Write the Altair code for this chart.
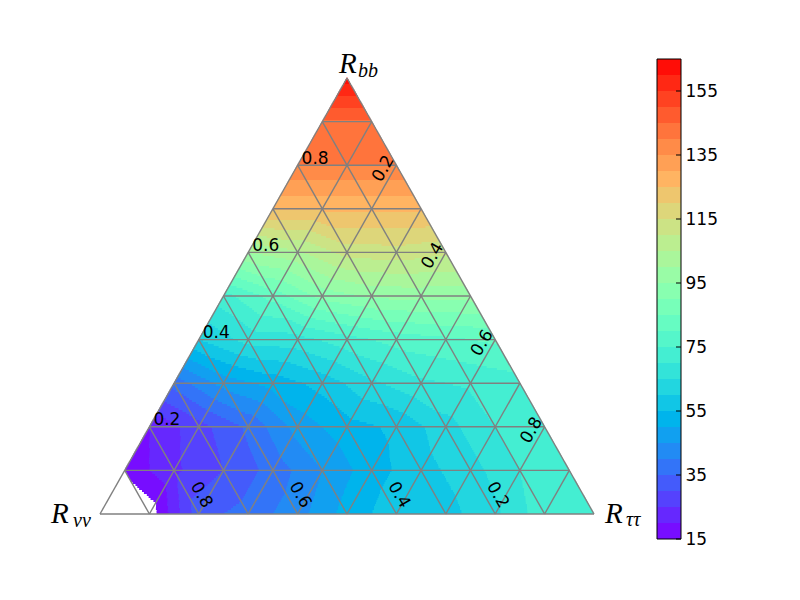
import numpy as np
import pandas as pd
import altair as alt

alt.data_transformers.disable_max_rows()

# ---------------- data ----------------
# Values at the nodes of the ternary grid. One list per row of constant R_bb
# (0.0 ... 1.0); each list runs from the left edge (R_tautau = 0) to the
# right edge (R_nunu = 0) in steps of 0.1 of R_tautau.
row_b00 = [5, 12, 33, 37, 43, 52, 58, 58, 64, 73, 74]
row_b01 = [16, 24, 30, 37, 45, 53, 58, 63, 70, 73]
row_b02 = [20, 28, 36, 47, 53, 56, 63, 70, 73]
row_b03 = [37, 47, 52, 57, 64, 69, 71, 73]
row_b04 = [60, 67, 68, 73, 77, 79, 81]
row_b05 = [73, 82, 92, 96, 97, 97]
row_b06 = [100, 104, 112, 113, 111]
row_b07 = [126, 126, 126, 126]
row_b08 = [140, 140, 140]
row_b09 = [144, 144]
row_b10 = [163]
node_rows = [row_b00, row_b01, row_b02, row_b03, row_b04, row_b05,
             row_b06, row_b07, row_b08, row_b09, row_b10]

level_lows = list(range(15, 165, 5))          # contour levels 15 ... 160 (+5)
cbar_ticks = [15, 35, 55, 75, 95, 115, 135, 155]
axis_ticks = ["0.2", "0.4", "0.6", "0.8"]
grid_steps = [0.0, 0.1, 0.2, 0.3, 0.4, 0.5, 0.6, 0.7, 0.8, 0.9]

# ---------------- colours (matplotlib "rainbow") ----------------
def rainbow(x):
    r = min(1.0, abs(2 * x - 0.5))
    g = np.sin(np.pi * x)
    b = np.cos(np.pi * x / 2)
    return "#%02x%02x%02x" % tuple(int(round(255 * max(0.0, min(1.0, c)))) for c in (r, g, b))

band_colors = [rainbow((lo + 2.5 - 15) / 150.0) for lo in level_lows]
color_scale = alt.Scale(type="threshold", domain=level_lows[1:], range=band_colors)

# ---------------- scales ----------------
PX_X, PX_Y = 494.0, 436.0
W, H = 673, 584
xmin = -92.0 / PX_X
xs = alt.Scale(domain=[xmin, xmin + W / PX_X], nice=False, zero=False)
ymax = 506.0 / PX_Y
ys = alt.Scale(domain=[ymax - H / PX_Y, ymax], nice=False, zero=False)
cb_scale = alt.Scale(domain=[15, 165], range=[531, 51], nice=False, zero=False)


# ---------------- filled contours (linear within the grid triangles) ----------------
def value_at(b, t):
    B, T = b * 10.0, max(0.0, t * 10.0)
    i = min(int(np.floor(B)), 9)
    j = min(int(np.floor(T)), 9 - i)
    fb, ft = B - i, T - j
    if fb + ft <= 1:
        return (node_rows[i][j] * (1 - fb - ft) + node_rows[i + 1][j] * fb
                + node_rows[i][j + 1] * ft)
    return (node_rows[i + 1][j + 1] * (fb + ft - 1) + node_rows[i + 1][j] * (1 - ft)
            + node_rows[i][j + 1] * (1 - fb))


recs = []
h = 2.0 / PX_Y
nrows = int(np.ceil(1.0 / h))
for r in range(nrows):
    b0, b1 = r * h, min((r + 1) * h, 1.0)
    bm = 0.5 * (b0 + b1)
    xl, xr = bm / 2, 1 - bm / 2
    n = max(1, int(round((xr - xl) * PX_X)))
    edges = np.linspace(xl, xr, n + 1)
    ks = []
    for c in 0.5 * (edges[:-1] + edges[1:]):
        t = c - bm / 2
        v = value_at(bm, t)
        if 1 - bm - t > 0.9 or v < 15:     # no fill in the lower-left corner
            ks.append(-1)
        else:
            ks.append(min(29, int((v - 15) // 5)))
    s = 0
    while s < n:
        e = s
        while e + 1 < n and ks[e + 1] == ks[s]:
            e += 1
        if ks[s] >= 0:
            recs.append(dict(x=edges[s], x2=edges[e + 1] + (0.8 / PX_X if e + 1 < n else 0),
                             y=b0, y2=b1 + 0.6 / PX_Y, v=15 + 5 * ks[s] + 2.5))
        s = e + 1
heat_df = pd.DataFrame(recs)

heat = alt.Chart(heat_df).mark_rect(strokeWidth=0).encode(
    x=alt.X("x:Q", scale=xs, axis=None), x2="x2:Q",
    y=alt.Y("y:Q", scale=ys, axis=None), y2="y2:Q",
    color=alt.Color("v:Q", scale=color_scale, legend=None),
)

# ---------------- grid lines ----------------
g = []
for c in grid_steps:
    g.append(dict(x=c / 2, y=c, x2=1 - c / 2, y2=c))           # constant R_bb
    g.append(dict(x=c, y=0.0, x2=(1 + c) / 2, y2=1 - c))       # constant R_tautau
    g.append(dict(x=1 - c, y=0.0, x2=(1 - c) / 2, y2=1 - c))   # constant R_nunu
grid = alt.Chart(pd.DataFrame(g)).mark_rule(color="#808080", strokeWidth=1.4).encode(
    x=alt.X("x:Q", scale=xs, axis=None), x2="x2:Q",
    y=alt.Y("y:Q", scale=ys, axis=None), y2="y2:Q",
)

# ---------------- tick labels ----------------
tv = [float(s) for s in axis_ticks]
left_df = pd.DataFrame(dict(x=[v / 2 for v in tv], y=tv, s=axis_ticks))
right_df = pd.DataFrame(dict(x=[(1 + v) / 2 for v in tv], y=[1 - v for v in tv], s=axis_ticks))
bottom_df = pd.DataFrame(dict(x=[1 - v for v in tv], y=[0.0] * 4, s=axis_ticks))

FONT = "DejaVu Sans"


def txt(df, field="s", **mk):
    return alt.Chart(df).mark_text(**mk).encode(
        x=alt.X("x:Q", scale=xs, axis=None),
        y=alt.Y("y:Q", scale=ys, axis=None),
        text=f"{field}:N",
    )


def local_offset(sx, sy, angle):
    """Vega applies dx/dy in the rotated text frame: convert a screen offset."""
    a = np.radians(angle)
    return (sx * np.cos(a) + sy * np.sin(a), -sx * np.sin(a) + sy * np.cos(a))


rdx, rdy = local_offset(-13, 3.5, 300)
bdx, bdy = local_offset(2.5, -19, 60)

lab_left = txt(left_df, align="left", baseline="alphabetic", dx=4, dy=-1.5,
               font=FONT, fontSize=17, color="black")
lab_right = txt(right_df, align="center", baseline="middle", angle=300, dx=rdx, dy=rdy,
                font=FONT, fontSize=17, color="black")
lab_bottom = txt(bottom_df, align="center", baseline="middle", angle=60, dx=bdx, dy=bdy,
                 font=FONT, fontSize=17, color="black")

# ---------------- corner titles ----------------
SERIF = "Liberation Serif"
t_bb = pd.DataFrame(dict(x=[0.5], y=[1.0], R=["R"], sub=["bb"]))
t_nn = pd.DataFrame(dict(x=[0.0], y=[0.0], R=["R"], sub=["νν"]))
t_tt = pd.DataFrame(dict(x=[1.0], y=[0.0], R=["R"], sub=["ττ"]))
tit = dict(font=SERIF, fontStyle="italic", color="black", baseline="alphabetic", align="left")
titles = [
    txt(t_bb, "R", fontSize=29, dx=-8, dy=-5, **tit),
    txt(t_bb, "sub", fontSize=20, dx=11, dy=-1.5, **tit),
    txt(t_nn, "R", fontSize=29, dx=-49, dy=9, **tit),
    txt(t_nn, "sub", fontSize=20, dx=-27, dy=13, **tit),
    txt(t_tt, "R", fontSize=29, dx=11, dy=9, **tit),
    txt(t_tt, "sub", fontSize=20, dx=32, dy=12, **tit),
]

main = alt.layer(heat, grid, lab_left, lab_right, lab_bottom, *titles)

# ---------------- colour bar ----------------
cb_axis = alt.Axis(orient="right", values=cbar_ticks, ticks=False, tickSize=0, domain=False,
                   grid=False, labelFont=FONT, labelFontSize=17, labelColor="black",
                   labelPadding=4, title=None, labelOverlap=False, labelFlush=False)
cb_df = pd.DataFrame(dict(cy=level_lows, cy2=[lo + 5 for lo in level_lows],
                          v=[lo + 2.5 for lo in level_lows]))
cb_bands = alt.Chart(cb_df).mark_rect(strokeWidth=0).encode(
    x=alt.value(649), x2=alt.value(673),
    y=alt.Y("cy:Q", scale=cb_scale, axis=cb_axis), y2="cy2:Q",
    color=alt.Color("v:Q", scale=color_scale, legend=None),
)
cb_tick = alt.Chart(pd.DataFrame(dict(cy=cbar_ticks))).mark_rule(color="black", strokeWidth=1).encode(
    x=alt.value(668), x2=alt.value(673),
    y=alt.Y("cy:Q", scale=cb_scale, axis=cb_axis),
)
cb_frame = alt.Chart(pd.DataFrame(dict(cy=[15], cy2=[165]))).mark_rect(
    fillOpacity=0, stroke="black", strokeWidth=1).encode(
    x=alt.value(649), x2=alt.value(673),
    y=alt.Y("cy:Q", scale=cb_scale, axis=cb_axis), y2="cy2:Q",
)
cbar = alt.layer(cb_bands, cb_tick, cb_frame)

chart = (
    alt.layer(main, cbar)
    .resolve_scale(y="independent")
    .properties(width=W, height=H, autosize="none",
                padding={"left": 0, "top": 0, "right": 111, "bottom": 0},
                background="white")
    .configure_view(stroke=None)
)

chart.save("out.html", embed_options={"renderer": "svg", "actions": False})
